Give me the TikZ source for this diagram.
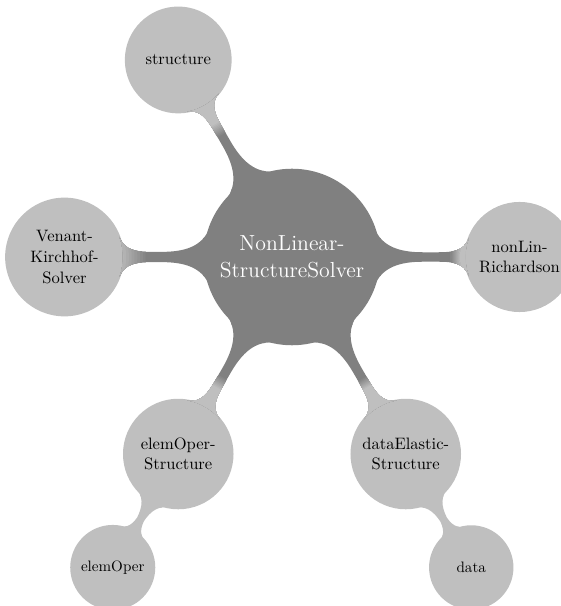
\documentclass[tikz,border=0pt]{standalone}
\usetikzlibrary{mindmap,calc}
\begin{document}
\begin{tikzpicture}[x=0.6617pt,y=0.6617pt]
\useasboundingbox (0,0) rectangle (560,606);
\begin{scope}[mindmap,
  rootstyle/.style={concept, concept color=black!50, minimum size=113.8pt,
    text width=110pt, text=white, font=\fontsize{14.4}{18}\selectfont},
  firststyle/.style={concept, concept color=black!25, minimum size=69.5pt,
    text width=66pt, text=black, font=\fontsize{10.95}{13.6}\selectfont},
  secondstyle/.style={concept, concept color=black!25, minimum size=54.3pt,
    text width=52pt, text=black, font=\fontsize{10}{12}\selectfont},
  bar/.style={circle connection bar switch color=from (#1) to (#1)}]

  % concepts
  \node[rootstyle] (root) at (292,349) {NonLinear-\\StructureSolver};
  \node[firststyle] (structure)   at ($(root)+(120:227.5)$) {structure};
  \node[firststyle] (venant)      at ($(root)+(180:227.5)$) {Venant-\\Kirchhof-\\Solver};
  \node[firststyle] (elemstruct)  at ($(root)+(240:227.5)$) {elemOper-\\Structure};
  \node[firststyle] (dataelastic) at ($(root)+(300:227.5)$) {dataElastic-\\Structure};
  \node[firststyle] (nonlin)      at ($(root)+(0:227.5)$)   {nonLin-\\Richardson};
  \node[secondstyle] (elemoper) at ($(elemstruct)+(240:131)$) {elemOper};
  \node[secondstyle] (data)     at ($(dataelastic)+(300:131)$) {data};

  % bars from the root: dark, turning light between radii \a and \b around the child
  \foreach \c/\a/\b in {structure/74/88, venant/56/84, elemstruct/77/90,
                        dataelastic/77/88, nonlin/59/70}{
    \path (root) to[bar=black!50] (\c);
    \foreach \t in {1,...,10}{
      \pgfmathsetmacro\r{\b-(\b-\a)*\t/10}
      \pgfmathsetmacro\k{50-2.5*\t}
      \begin{scope}
        \clip (\c) circle (\r);
        \path (root) to[bar=black!\k] (\c);
      \end{scope}
    }
  }

  % bars to the second level
  \path (elemstruct) to[bar=black!25] (elemoper);
  \path (dataelastic) to[bar=black!25] (data);
\end{scope}
\end{tikzpicture}
\end{document}
